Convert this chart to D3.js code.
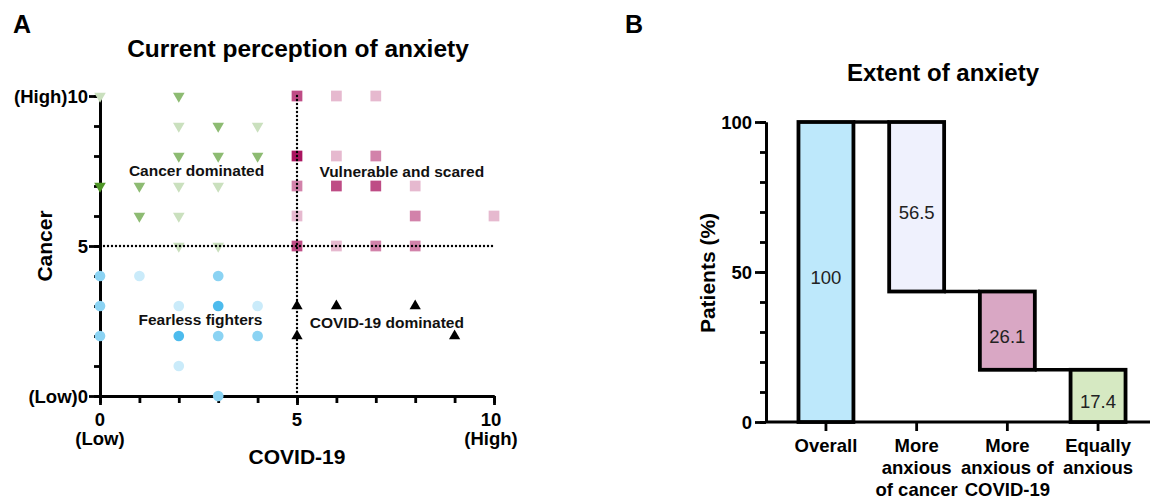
<!DOCTYPE html>
<html>
<head>
<meta charset="utf-8">
<script src="https://cdn.jsdelivr.net/npm/d3@7"></script>
<style>
  body { margin: 0; background: #fff; }
  svg { font-family: "Liberation Sans", Arial, sans-serif; }
</style>
</head>
<body>
<div class="chart"></div>
<script>
// ---- data: panel A, [covid, cancer, count]
const cancerDominated = [
  [0,10,1],[2,10,2],[2,9,1],[3,9,2],[4,9,1],[2,8,2],[3,8,2],[4,8,2],
  [0,7,3],[1,7,2],[2,7,1],[3,7,1],[1,6,2],[2,6,1],[2,5,1],[3,5,1]
];
const vulnerableScared = [
  [5,10,3],[6,10,1],[7,10,1],[5,8,4],[6,8,1],[7,8,2],
  [5,7,2],[6,7,3],[7,7,3],[8,7,1],[5,6,1],[8,6,2],[10,6,1],
  [5,5,3],[6,5,1],[7,5,2],[8,5,2]
];
const fearlessFighters = [
  [0,4,2],[1,4,1],[3,4,2],[0,3,2],[2,3,1],[3,3,3],[4,3,1],
  [0,2,2],[2,2,3],[3,2,2],[4,2,2],[2,1,1],[3,0,2]
];
const covidDominated = [[5,3,1],[6,3,1],[8,3,1],[5,2,1],[9,2,1]];

const quadrantLabels = [
  {text: "Cancer dominated", x: 2.45, y: 7.35},
  {text: "Vulnerable and scared", x: 7.66, y: 7.3},
  {text: "Fearless fighters", x: 2.55, y: 2.37},
  {text: "COVID-19 dominated", x: 7.28, y: 2.27}
];

// ---- data: panel B
const categories = ["Overall", "More anxious of cancer", "More anxious of COVID-19", "Equally anxious"];
const categoryLines = [["Overall"], ["More", "anxious", "of cancer"], ["More", "anxious of", "COVID-19"], ["Equally", "anxious"]];
const percents = [100, 56.5, 26.1, 17.4];
const barFills = ["#bde8fb", "#eff1fd", "#d9a7c4", "#d6e9c2"];

const svg = d3.select(".chart").append("svg")
    .attr("width", 1152)
    .attr("height", 503);

// ================= Panel A =================
const x = d3.scaleLinear().domain([0, 10]).range([100, 494]);
const y = d3.scaleLinear().domain([0, 10]).range([396, 96]);

svg.append("text").attr("x", 13).attr("y", 33)
    .attr("font-size", 25).attr("font-weight", "bold").text("A");
svg.append("text").attr("x", 298).attr("y", 57).attr("text-anchor", "middle")
    .attr("font-size", 24.5).attr("font-weight", "bold").text("Current perception of anxiety");

// axes: minor ticks then major ticks with labels
const gA = svg.append("g");
gA.append("g").attr("transform", "translate(0,396)")
    .call(d3.axisBottom(x).tickValues(d3.range(0, 11)).tickSize(7).tickSizeOuter(0).tickFormat(""));
gA.append("g").attr("transform", "translate(0,396)")
    .call(d3.axisBottom(x).tickValues([0, 5, 10]).tickSize(9).tickSizeOuter(0).tickFormat(""));
gA.append("g").attr("transform", "translate(100,0)")
    .call(d3.axisLeft(y).tickValues(d3.range(0, 11)).tickSize(6).tickSizeOuter(0).tickFormat(""));
gA.append("g").attr("transform", "translate(100,0)")
    .call(d3.axisLeft(y).tickValues([0, 5, 10]).tickSize(11).tickSizeOuter(0).tickFormat(""));
gA.selectAll("path, line").attr("stroke", "#000").attr("stroke-width", 2.8);

const yTickText = {0: "(Low)0", 5: "5", 10: "(High)10"};
gA.selectAll(".ylab").data([0, 5, 10]).join("text")
    .attr("x", 88).attr("y", d => y(d) + 6.5).attr("text-anchor", "end")
    .attr("font-size", 18.5).attr("font-weight", "bold").text(d => yTickText[d]);

const xTickText = {0: ["0", "(Low)"], 5: ["5"], 10: ["10", "(High)"]};
gA.selectAll(".xlab").data([0, 5, 10]).join("text")
    .attr("text-anchor", "middle").attr("font-size", 18.5).attr("font-weight", "bold")
    .each(function(d) {
        d3.select(this).selectAll("tspan").data(xTickText[d]).join("tspan")
            .attr("x", d === 10 ? x(d) - 3 : x(d)).attr("y", (t, i) => 426 + i * 19).text(t => t);
    });

svg.append("text").attr("x", 297).attr("y", 464).attr("text-anchor", "middle")
    .attr("font-size", 21).attr("font-weight", "bold").text("COVID-19");
svg.append("text").attr("transform", "translate(52,246) rotate(-90)").attr("text-anchor", "middle")
    .attr("font-size", 21).attr("font-weight", "bold").text("Cancer");

// points
function shade(base, count, maxCount) {
    return d3.interpolateRgb("#ffffff", base)(0.3 + 0.7 * (count - 1) / (maxCount - 1 || 1));
}
const groups = [
  {data: cancerDominated, base: "#4f9626", max: 3, symbol: d3.symbolTriangle, size: 58, rot: 180},
  {data: vulnerableScared, base: "#aa1560", max: 4, symbol: d3.symbolSquare, size: 115, rot: 0},
  {data: fearlessFighters, base: "#4dbbed", max: 3, symbol: d3.symbolCircle, size: 90, rot: 0},
  {data: covidDominated, base: "#000000", max: 1, symbol: d3.symbolTriangle, size: 55, rot: 0}
];
groups.forEach(g => {
    svg.append("g").selectAll("path").data(g.data).join("path")
        .attr("d", d3.symbol().type(g.symbol).size(g.size))
        .attr("transform", d => `translate(${x(d[0])},${y(d[1])}) rotate(${g.rot})`)
        .attr("fill", d => g.max === 1 ? g.base : shade(g.base, d[2], g.max));
});

// dotted quadrant lines
svg.append("line").attr("x1", x(5)).attr("x2", x(5)).attr("y1", y(10)).attr("y2", y(0))
    .attr("stroke", "#000").attr("stroke-width", 2.4).attr("stroke-linecap", "round").attr("stroke-dasharray", "0 4");
svg.append("line").attr("x1", x(0)).attr("x2", x(10)).attr("y1", y(5)).attr("y2", y(5))
    .attr("stroke", "#000").attr("stroke-width", 2.4).attr("stroke-linecap", "round").attr("stroke-dasharray", "0 4");

svg.selectAll(".quad").data(quadrantLabels).join("text")
    .attr("x", d => x(d.x)).attr("y", d => y(d.y)).attr("text-anchor", "middle")
    .attr("font-size", 15.5).attr("font-weight", "bold").attr("fill", "#111").text(d => d.text);

// ================= Panel B =================
const xb = d3.scaleBand().domain(categories).range([766, 1158]).paddingInner(0.394).paddingOuter(0.358);
const yb = d3.scaleLinear().domain([0, 100]).range([422, 122]);

svg.append("text").attr("x", 625).attr("y", 33)
    .attr("font-size", 25).attr("font-weight", "bold").text("B");
svg.append("text").attr("x", 943).attr("y", 81).attr("text-anchor", "middle")
    .attr("font-size", 24).attr("font-weight", "bold").text("Extent of anxiety");

// waterfall ranges
let level = 100;
const bars = categories.map((c, i) => {
    if (i === 0) return {cat: c, v: percents[i], lo: 0, hi: percents[i], fill: barFills[i]};
    const b = {cat: c, v: percents[i], lo: level - percents[i], hi: level, fill: barFills[i]};
    level = b.lo;
    return b;
});

const gB = svg.append("g");
gB.append("g").attr("transform", "translate(766,0)")
    .call(d3.axisLeft(yb).tickValues(d3.range(0, 101, 10)).tickSize(6).tickSizeOuter(0).tickFormat(""));
gB.append("g").attr("transform", "translate(766,0)")
    .call(d3.axisLeft(yb).tickValues([0, 50, 100]).tickSize(11).tickSizeOuter(0).tickFormat(""));
gB.append("line").attr("x1", 766).attr("x2", 1150).attr("y1", 422).attr("y2", 422);
gB.selectAll(".xt").data(categories).join("line")
    .attr("x1", d => xb(d) + xb.bandwidth() / 2).attr("x2", d => xb(d) + xb.bandwidth() / 2)
    .attr("y1", 422).attr("y2", 431);
gB.selectAll("path, line").attr("stroke", "#000").attr("stroke-width", 2.8);

gB.selectAll(".ylab").data([0, 50, 100]).join("text")
    .attr("x", 752).attr("y", d => yb(d) + 6.5).attr("text-anchor", "end")
    .attr("font-size", 18.5).attr("font-weight", "bold").text(d => d);

svg.append("text").attr("transform", "translate(715,273) rotate(-90)").attr("text-anchor", "middle")
    .attr("font-size", 21).attr("font-weight", "bold").text("Patients (%)");

gB.selectAll(".xlab").data(categories).join("text")
    .attr("text-anchor", "middle").attr("font-size", 18.5).attr("font-weight", "bold")
    .each(function(d, i) {
        d3.select(this).selectAll("tspan").data(categoryLines[i]).join("tspan")
            .attr("x", xb(d) + xb.bandwidth() / 2).attr("y", (t, j) => 452 + j * 22).text(t => t);
    });

// connectors
gB.selectAll(".conn").data(bars.slice(1)).join("line")
    .attr("x1", (d, i) => xb(bars[i].cat) + xb.bandwidth()).attr("x2", d => xb(d.cat))
    .attr("y1", d => yb(d.hi)).attr("y2", d => yb(d.hi))
    .attr("stroke", "#000").attr("stroke-width", 3.5);

gB.selectAll(".bar").data(bars).join("rect")
    .attr("x", d => xb(d.cat)).attr("width", xb.bandwidth())
    .attr("y", d => yb(d.hi)).attr("height", d => yb(d.lo) - yb(d.hi))
    .attr("fill", d => d.fill).attr("stroke", "#000").attr("stroke-width", 3.8);

gB.selectAll(".val").data(bars).join("text")
    .attr("x", d => xb(d.cat) + xb.bandwidth() / 2).attr("y", d => yb((d.lo + d.hi) / 2) + 12)
    .attr("text-anchor", "middle").attr("font-size", 18.5).attr("fill", "#222").text(d => d.v);
</script>
</body>
</html>
